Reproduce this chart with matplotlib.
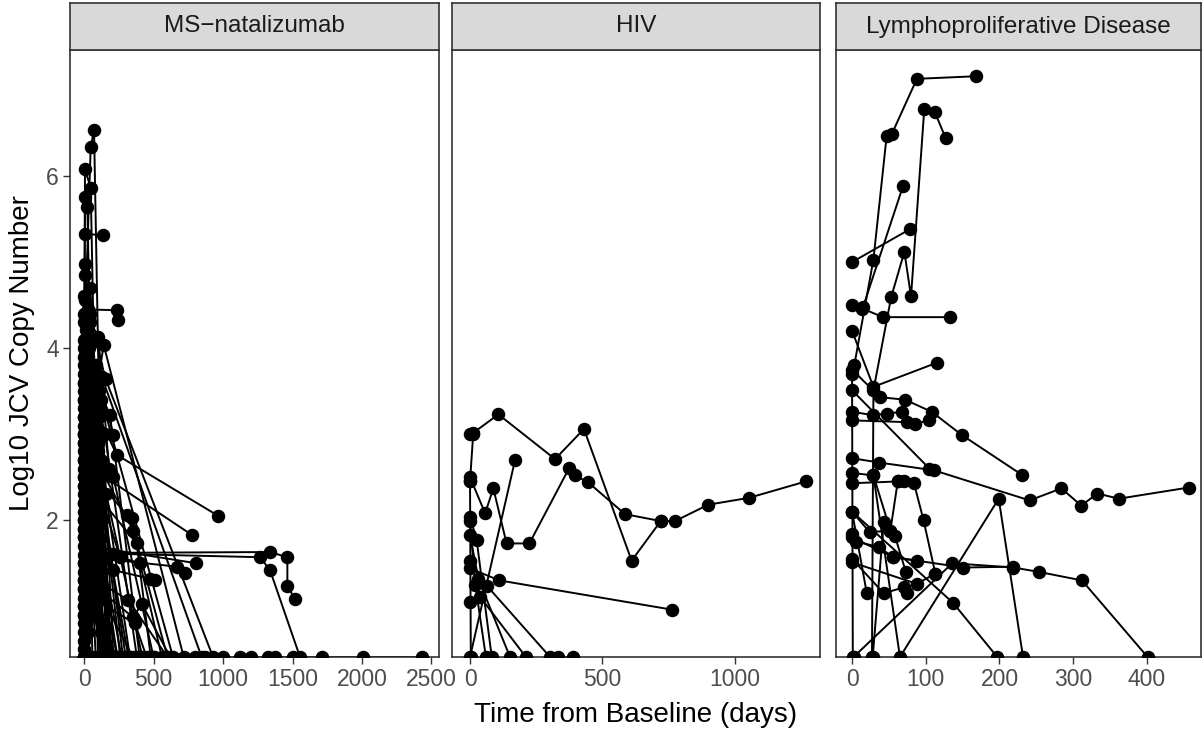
import matplotlib
matplotlib.use("Agg")
import matplotlib.pyplot as plt

plt.rcParams['font.family'] = ['Liberation Sans', 'DejaVu Sans']

# panel titles
panels = ["MS\u2212natalizumab", "HIV", "Lymphoproliferative Disease"]

# MS-natalizumab: one list per patient (days, log10 copies)
ms_days = [
    [7, 48, 72, 110], [0, 7, 48, 90], [0, 7, 24, 70], [7, 134],
    [0, 7, 40, 120], [0, 7, 30, 100], [7, 30, 235, 247], [14, 103, 180],
    [0, 15, 211], [0, 30, 86, 155, 928], [0, 141, 717], [0, 60, 187, 400],
    [10, 127, 846], [5, 110, 640], [0, 50, 235, 966], [0, 40, 211, 500],
    [0, 30, 307, 343], [0, 20, 355, 600], [0, 90, 379, 480],
    [0, 60, 211, 1266, 1338, 1554], [0, 100, 1338, 1463, 1463, 1518],
    [0, 150, 667, 727], [0, 60, 775], [0, 30, 806], [0, 259, 403, 560],
    [0, 211, 475, 511], [0, 90, 319, 600], [0, 100, 355, 415, 620],
    [0, 50, 367, 450], [0, 300, 870], [0, 500, 1122], [0, 800, 1324, 1374],
    [0, 1200, 1710], [0, 1500, 2010], [0, 1000, 2429], [0, 28, 60],
    [0, 14, 42, 84], [0, 30, 90, 150], [0, 21, 56, 200], [0, 35, 120, 260],
    [0, 7, 63, 320], [0, 28, 100, 180], [0, 45, 140], [0, 14, 70, 230],
    [0, 56, 112], [0, 20, 80, 280], [0, 42, 130, 350], [0, 84, 160, 420],
    [0, 10, 110, 240], [0, 65, 95, 300], [0, 35, 150, 380], [0, 20, 75, 130],
    [0, 7, 28, 170], [0, 60, 125, 210], [0, 100, 190], [0, 15, 50, 270],
    [0, 120, 330], [0, 40, 90, 240], [0, 35, 70], [0, 20, 45, 90],
    [0, 60, 130, 200], [0, 75, 140], [0, 45, 105, 160], [0, 85, 145],
    [0, 30, 110, 170], [0, 55, 120], [0, 95, 135], [0, 70, 115, 190],
    [0, 50, 100], [0, 80, 125, 220],
]
ms_vals = [
    [4.3, 6.34, 6.53, 3.2], [3.6, 6.08, 5.86, 2.4], [2.9, 5.76, 5.64, 1.9], [5.33, 5.31],
    [3.2, 4.98, 4.3, 2.2], [2.2, 4.85, 3.6, 1.2], [4.56, 4.45, 4.44, 4.33], [4.40, 4.13, 2.6],
    [3.0, 4.21, 2.99], [1.5, 3.9, 4.08, 3.64, 0.41], [2.5, 4.04, 0.41], [1.8, 3.7, 3.22, 0.41],
    [3.9, 3.67, 0.41], [3.3, 3.5, 0.41], [2.7, 3.4, 2.76, 2.05], [1.2, 3.0, 2.5, 0.41],
    [3.1, 2.6, 2.06, 2.02], [2.4, 2.9, 1.88, 0.41], [3.4, 2.3, 1.73, 0.41],
    [1.9, 2.1, 1.61, 1.57, 1.42, 0.41], [1.4, 1.62, 1.63, 1.57, 1.24, 1.08],
    [2.2, 1.55, 1.46, 1.39], [1.0, 2.6, 1.83], [1.2, 1.7, 1.50], [2.9, 1.57, 1.50, 0.41],
    [3.6, 1.42, 1.32, 1.30], [2.0, 1.3, 1.07, 0.41], [1.6, 1.2, 0.87, 1.03, 0.41],
    [0.9, 1.1, 0.80, 0.41], [0.41, 0.41, 0.41], [0.41, 0.41, 0.41], [0.41, 0.41, 0.41, 0.41],
    [0.41, 0.41, 0.41], [0.41, 0.41, 0.41], [0.41, 0.41, 0.41], [4.1, 3.3, 0.41],
    [3.8, 2.7, 1.9, 0.41], [3.4, 3.0, 2.1, 0.41], [3.0, 2.4, 1.5, 0.41], [2.6, 3.6, 2.5, 0.41],
    [2.3, 1.8, 2.7, 0.41], [2.0, 1.0, 2.8, 0.41], [1.7, 2.2, 0.41], [1.3, 3.2, 1.2, 0.41],
    [1.0, 2.5, 0.41], [0.7, 1.6, 3.1, 0.41], [3.9, 2.0, 1.1, 0.41], [3.2, 3.8, 2.3, 0.41],
    [2.5, 4.0, 1.8, 0.41], [1.9, 3.3, 2.6, 0.41], [1.1, 1.4, 3.0, 0.41], [0.9, 3.5, 0.9, 0.41],
    [0.6, 2.8, 4.0, 0.41], [2.8, 1.3, 3.4, 0.41], [4.3, 2.9, 0.41], [3.7, 0.8, 2.3, 0.41],
    [1.5, 2.7, 0.41], [3.5, 4.4, 1.5, 0.41], [4.6, 4.0, 3.0], [4.4, 3.9, 4.7, 2.6],
    [1.3, 0.9, 2.0, 0.41], [2.4, 1.1, 0.41], [0.8, 1.9, 1.4, 0.41], [3.0, 1.6, 0.41],
    [2.1, 0.7, 2.2, 0.41], [3.3, 2.9, 0.41], [1.8, 3.6, 0.41], [2.7, 1.5, 3.3, 0.41],
    [0.5, 3.7, 0.41], [4.0, 2.2, 0.7, 0.41],
]

# HIV
hiv_days = [
    [0, 10, 107, 321, 430, 610, 720],
    [0, 57, 88, 138, 224, 375, 396, 446, 585, 720, 774, 899, 1053, 1267],
    [0, 170], [0, 111, 763], [0, 25, 82], [0, 31, 151], [0, 38, 211],
    [0, 63, 302, 333, 390], [0, 12], [0, 3], [0, 20, 60],
]
hiv_vals = [
    [3.0, 3.01, 3.23, 2.71, 3.06, 1.53, 1.99],
    [2.5, 2.08, 2.37, 1.73, 1.73, 2.61, 2.52, 2.44, 2.07, 1.99, 1.99, 2.18, 2.26, 2.45],
    [0.41, 2.70], [1.44, 1.30, 0.96], [2.04, 1.77, 0.41], [1.83, 1.32, 0.41], [1.05, 1.11, 0.41],
    [1.52, 1.24, 0.41, 0.41, 0.41], [2.45, 3.0], [2.45, 0.41], [1.99, 1.25, 0.41],
]

# Lymphoproliferative Disease
lpd_days = [
    [3, 29, 47, 54, 88, 168], [27, 29, 53, 71, 80, 98, 112, 127], [0, 78], [15, 69],
    [0, 14, 42, 133], [0, 29, 115], [0, 38, 72, 108, 149, 230], [0, 29, 47, 68],
    [0, 74, 86, 104], [0, 37, 111, 241, 284, 311, 333, 362, 457], [0, 105],
    [0, 62, 70, 84, 97, 113], [0, 29, 52, 62], [29, 65, 199, 232],
    [2, 136, 219, 253, 312, 401], [0, 56, 151, 219], [0, 137, 197],
    [0, 6, 36, 56, 88], [0, 20], [0, 24, 52, 58, 73], [0, 43, 70, 74], [0, 1],
    [0, 88, 113], [28, 43],
]
lpd_vals = [
    [3.8, 5.03, 6.47, 6.49, 7.13, 7.16], [0.41, 3.51, 4.59, 5.12, 4.6, 6.78, 6.75, 6.44], [5.0, 5.38], [4.48, 5.88],
    [4.5, 4.46, 4.36, 4.36], [4.2, 3.55, 3.83], [3.75, 3.43, 3.40, 3.26, 2.99, 2.53], [3.26, 3.22, 3.24, 3.26],
    [3.16, 3.14, 3.12, 3.16], [2.72, 2.67, 2.58, 2.23, 2.37, 2.17, 2.31, 2.25, 2.38], [3.51, 2.6],
    [2.43, 2.45, 2.45, 2.43, 2.0, 1.38], [2.55, 2.52, 1.88, 2.45], [2.52, 0.41, 2.25, 0.41],
    [0.41, 1.5, 1.45, 1.40, 1.30, 0.41], [1.8, 1.57, 1.45, 1.46], [2.1, 1.04, 0.41],
    [1.84, 1.75, 1.69, 1.57, 1.53], [2.1, 1.15], [2.1, 1.86, 1.88, 1.82, 1.40], [1.55, 1.15, 1.22, 1.15], [3.7, 0.41],
    [1.51, 1.26, 1.38], [0.41, 1.98],
]

all_days = [ms_days, hiv_days, lpd_days]
all_vals = [ms_vals, hiv_vals, lpd_vals]
xticks = [[0, 500, 1000, 1500, 2000, 2500], [0, 500, 1000], [0, 100, 200, 300, 400]]
xlims = [(-101, 2554), (-68, 1321), (-21.8, 473.5)]

W, H = 1204, 731
fig = plt.figure(figsize=(W / 100, H / 100), dpi=100)
panel_px = [(70, 439), (452, 820), (836, 1201)]
top_px, bot_px, strip_top = 50, 657, 3
edge = '#333333'

for i in range(3):
    l, r = panel_px[i]
    ax = fig.add_axes([l / W, 1 - bot_px / H, (r - l) / W, (bot_px - top_px) / H])
    for d, v in zip(all_days[i], all_vals[i]):
        ax.plot(d, v, color='black', lw=1.4, zorder=2)
    for d, v in zip(all_days[i], all_vals[i]):
        ax.plot(d, v, 'o', color='black', ms=8.7, ls='none', zorder=3)
    ax.set_xlim(*xlims[i])
    ax.set_ylim(0.41, 7.465)
    ax.set_xticks(xticks[i])
    ax.tick_params(colors=edge, labelcolor='#4D4D4D', labelsize=16.5, length=5, width=1, pad=3)
    if i == 0:
        ax.set_yticks([2, 4, 6])
    else:
        ax.set_yticks([])
    for s in ax.spines.values():
        s.set_color(edge)
        s.set_linewidth(1.2)

    sax = fig.add_axes([l / W, 1 - top_px / H, (r - l) / W, (top_px - strip_top) / H])
    sax.set_facecolor('#D9D9D9')
    sax.set_xticks([])
    sax.set_yticks([])
    for s in sax.spines.values():
        s.set_color(edge)
        s.set_linewidth(1.2)
    sax.text(0.5, 0.5, panels[i], ha='center', va='center', fontsize=17.5, color='#1A1A1A',
             transform=sax.transAxes)

fig.text(635.5 / W, 1 - 715 / H, "Time from Baseline (days)", ha='center', va='center', fontsize=20)
fig.text(22 / W, 1 - 353.5 / H, "Log10 JCV Copy Number", ha='center', va='center',
         rotation=90, fontsize=20)

fig.savefig("out.png", dpi=100)
